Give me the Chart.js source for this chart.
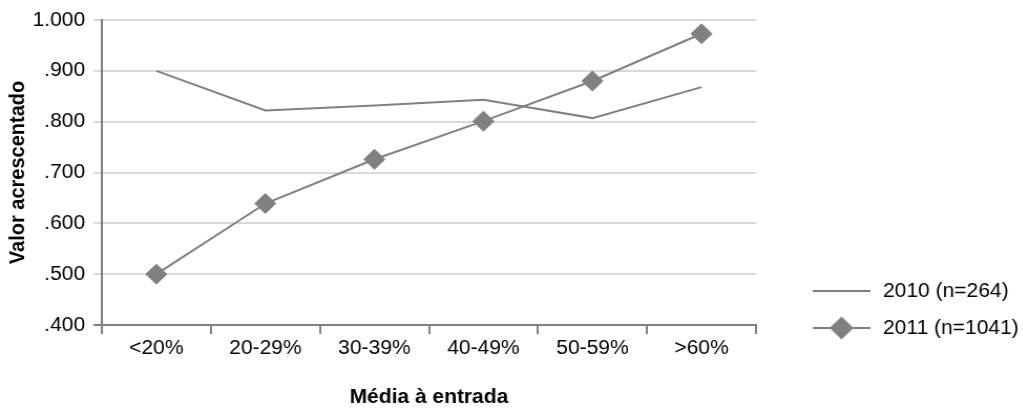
<!DOCTYPE html>
<html>
<head>
<meta charset="utf-8">
<script src="https://cdn.jsdelivr.net/npm/chart.js@4.4.1/dist/chart.umd.min.js"></script>
<style>
  html, body { margin: 0; padding: 0; background: #fff; overflow: hidden; }
  #wrap { width: 974px; height: 409px; transform: scaleX(1.05); transform-origin: 0 0; }
</style>
</head>
<body>
<div id="wrap"><canvas id="chart"></canvas></div>
<script>
const categories = ['<20%', '20-29%', '30-39%', '40-49%', '50-59%', '>60%']
const values2010 = [0.900, 0.822, 0.832, 0.843, 0.807, 0.868]
const values2011 = [0.500, 0.639, 0.726, 0.801, 0.880, 0.973]
const seriesLabels = ['2010 (n=264)', '2011 (n=1041)']
const yTitle = 'Valor acrescentado'
const xTitle = 'Média à entrada'

const gray = '#808080'
const gridGray = '#d9d9d9'
const fontFamily = '"Liberation Sans", Arial, sans-serif'
const fontSize = 20

// legend drawn at the right, lines + diamond like the original
const sideLegend = {
    id: 'sideLegend',
    afterDraw(chart) {
        const ctx = chart.ctx
        const area = chart.chartArea
        const x0 = area.right + 54
        const rows = [area.bottom - 34, area.bottom + 3]
        chart.data.datasets.forEach((ds, i) => {
            const y = rows[i]
            ctx.save()
            ctx.strokeStyle = ds.borderColor
            ctx.lineWidth = 2
            ctx.beginPath()
            ctx.moveTo(x0, y)
            ctx.lineTo(x0 + 55, y)
            ctx.stroke()
            if (ds.pointRadius > 0) {
                ctx.fillStyle = ds.pointBackgroundColor
                ctx.strokeStyle = ds.pointBorderColor
                Chart.helpers.drawPoint(ctx, {
                    pointStyle: 'rectRot', radius: ds.pointRadius, borderWidth: 1
                }, x0 + 27.5, y)
            }
            ctx.fillStyle = '#000'
            ctx.font = fontSize + 'px ' + fontFamily
            ctx.textBaseline = 'middle'
            ctx.textAlign = 'left'
            ctx.fillText(ds.label, x0 + 67, y)
            ctx.restore()
        })
    }
}

new Chart(document.getElementById('chart'), {
    type: 'line',
    data: {
        labels: categories,
        datasets: [{
            label: seriesLabels[0],
            data: values2010,
            borderColor: gray,
            borderWidth: 2,
            pointRadius: 0,
            tension: 0
        }, {
            label: seriesLabels[1],
            data: values2011,
            borderColor: gray,
            borderWidth: 2,
            pointStyle: 'rectRot',
            pointRadius: 10,
            pointHoverRadius: 10,
            pointBackgroundColor: gray,
            pointBorderColor: gray,
            pointBorderWidth: 1,
            tension: 0
        }]
    },
    options: {
        responsive: true,
        maintainAspectRatio: false,
        animation: false,
        layout: { padding: { top: 20, right: 254, bottom: 0, left: 0 } },
        plugins: {
            legend: { display: false },
            tooltip: { enabled: false }
        },
        scales: {
            x: {
                offset: true,
                afterFit: s => { s.height = 84 },
                grid: { offset: true, drawOnChartArea: false, tickLength: 9, color: gray, lineWidth: 2 },
                border: { color: gray, width: 2 },
                ticks: { color: '#000', padding: 2, font: { family: fontFamily, size: fontSize }, maxRotation: 0 },
                title: { display: true, text: xTitle, color: '#000', font: { family: fontFamily, size: fontSize, weight: 'bold' }, padding: { top: 20, bottom: 0 } }
            },
            y: {
                min: 0.4,
                max: 1.0,
                afterFit: s => { s.width = 97 },
                ticks: {
                    stepSize: 0.1,
                    color: '#000',
                    padding: 8,
                    font: { family: fontFamily, size: fontSize },
                    callback: v => v.toFixed(3).replace(/^0/, '')
                },
                grid: {
                    color: gridGray,
                    lineWidth: 2,
                    tickLength: 8,
                    tickColor: c => (c.tick && Math.abs(c.tick.value - 0.4) < 1e-6) ? gray : gridGray
                },
                border: { color: gray, width: 2 },
                title: { display: true, text: yTitle, color: '#000', font: { family: fontFamily, size: fontSize, weight: 'bold' }, padding: { top: 5, bottom: 2 } }
            }
        }
    },
    plugins: [sideLegend]
})
</script>
</body>
</html>
